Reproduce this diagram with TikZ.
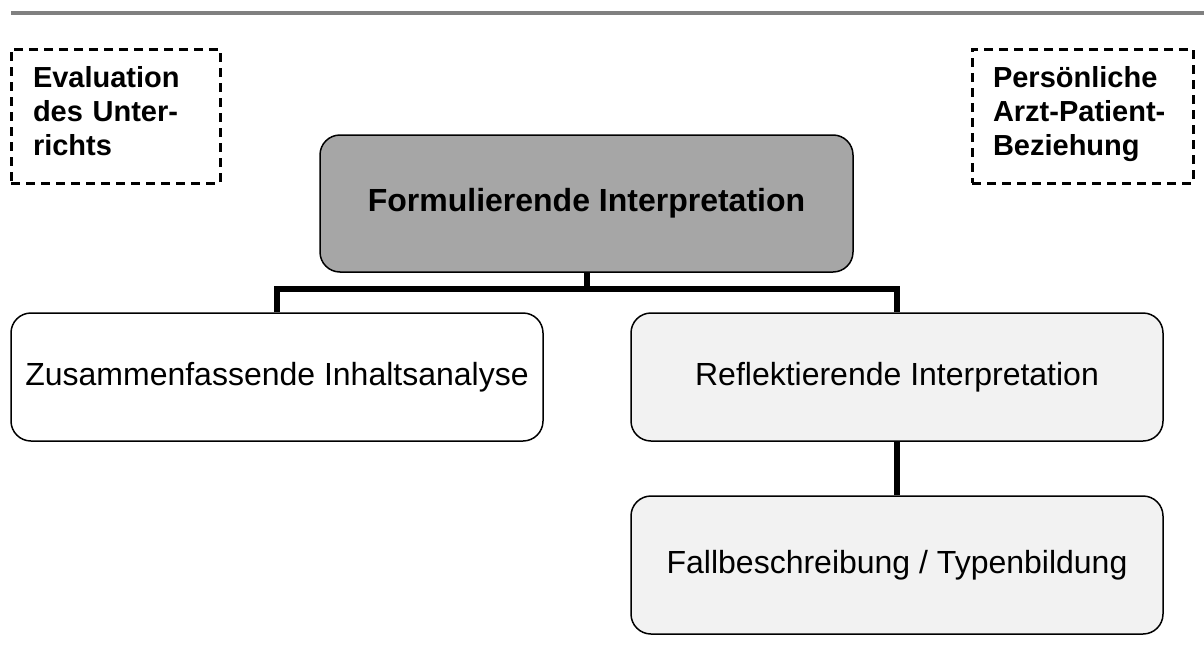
\documentclass[tikz,border=0pt]{standalone}
\usepackage{fontspec}
\setmainfont{Liberation Sans}
\definecolor{topgray}{HTML}{A6A6A6}
\definecolor{lightfill}{HTML}{F2F2F2}
\definecolor{rulegray}{HTML}{808080}
\newcommand{\toprl}{\rule{0pt}{22pt}}
\newcommand{\botrl}{\rule[-12pt]{0pt}{12pt}}
\tikzset{
  px/.style={x=1pt,y=-1pt},
  stepbox/.style={draw=black, line width=1.5pt, rounded corners=20pt,
    minimum width=532pt, minimum height=137pt, inner sep=0pt,
    font=\fontsize{32}{38}\selectfont},
  mainbox/.style={stepbox, fill=topgray, minimum width=533pt, font=\fontsize{32}{38}\selectfont\bfseries},
  lightbox/.style={stepbox, fill=lightfill},
  whitebox/.style={stepbox, fill=white},
  midrow/.style={minimum height=128pt},
  notebox/.style={draw=black, line width=3pt, dash pattern=on 9pt off 6pt,
    minimum height=134pt, inner sep=0pt, align=left,
    font=\fontsize{29}{34}\selectfont\bfseries},
  conn/.style={draw=black, line width=6pt, line join=miter},
  rule/.style={draw=rulegray, line width=4pt}
}
\begin{document}
\begin{tikzpicture}[px]
\useasboundingbox (0,0) rectangle (1204,653);
\coordinate (ruleL) at (11,13);
\coordinate (ruleR) at (1204,13);
\draw[rule] (ruleL) -- (ruleR);

\node[notebox, minimum width=209pt, text width=165pt] (eval) at (115.5,116) {\toprl Evaluation\\des Unter-\\richts\botrl};
\node[notebox, minimum width=221pt, text width=179pt] (pers) at (1082.5,116) {\toprl Persönliche\\Arzt-Patient-\\Beziehung\botrl};

\node[mainbox] (top) at (586.5,203.5) {Formulierende Interpretation};
\node[whitebox, midrow] (left) at (277,377) {Zusammenfassende Inhaltsanalyse};
\node[lightbox, midrow] (refl) at (897,377) {Reflektierende Interpretation};
\node[lightbox, minimum height=138pt] (fall) at (897,565) {Fallbeschreibung / Typenbildung};

\coordinate (j) at (586.5,289);
\draw[conn] (top.south) -- (j);
\draw[conn] (left.north) |- (j) -| (refl.north);
\draw[conn] (refl.south) -- (fall.north);
\end{tikzpicture}
\end{document}
